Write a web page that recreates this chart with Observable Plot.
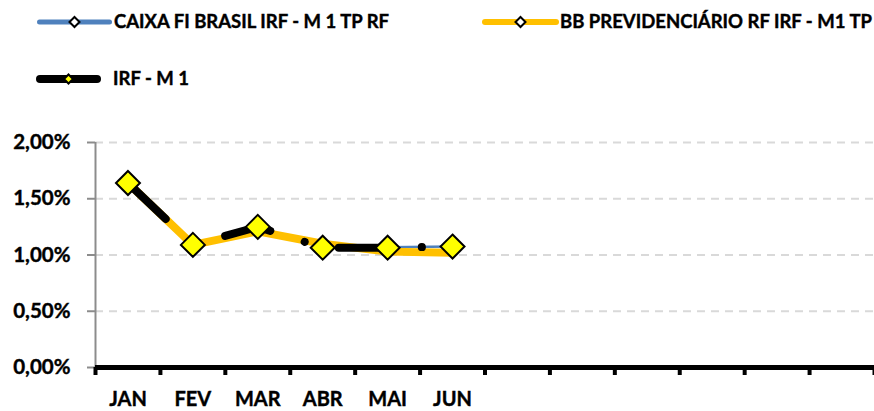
<!DOCTYPE html>
<html>
<head>
<meta charset="utf-8">
<script src="https://cdn.jsdelivr.net/npm/d3@7"></script>
<script src="https://cdn.jsdelivr.net/npm/@observablehq/plot@0.6"></script>
<style>
  html, body { margin: 0; padding: 0; background: #fff; }
  body { width: 874px; height: 411px; overflow: hidden; font-family: Lato, "Noto Sans", sans-serif; }
  #legend { position: relative; width: 874px; height: 110px; }
  .item { position: absolute; height: 30px; }
  .item svg { position: absolute; left: 0; top: 0; }
  .item span { position: absolute; top: 2px; font-weight: 700; font-size: 18.5px; white-space: nowrap; color: #000; -webkit-text-stroke: 0.4px #000; }
  #chart svg { display: block; }
  #chart svg text { stroke: #000; stroke-width: 0.4px; }
</style>
</head>
<body>
<div id="legend"></div>
<div id="chart"></div>
<script>
const months = ["JAN", "FEV", "MAR", "ABR", "MAI", "JUN"];
const bandCount = 12;
const seriesNames = ["CAIXA FI BRASIL IRF - M 1 TP RF", "BB PREVIDENCIÁRIO RF IRF - M1 TP", "IRF - M 1"];
const caixa = [1.63, 1.09, 1.24, 1.07, 1.07, 1.075];
const bb = [1.64, 1.09, 1.21, 1.10, 1.03, 1.02];
const irf = [1.64, 1.09, 1.25, 1.065, 1.065, 1.075];
const yTicks = [0, 0.5, 1, 1.5, 2];

const toRows = arr => arr.map((v, i) => ({ pos: i + 0.5, month: months[i], v }));
const fmt = d => d.toFixed(2).replace(".", ",") + "%";

// Legend
const legendSpecs = [
  { name: seriesNames[0], left: 35, top: 8, len: 75, color: "#4f81bd", lw: 5, mfill: "#ffffff", ms: 5, textLeft: 79 },
  { name: seriesNames[1], left: 480, top: 8, len: 77, color: "#ffc000", lw: 6, mfill: "#ffffff", ms: 5, textLeft: 80 },
  { name: seriesNames[2], left: 34, top: 65, len: 65, color: "#000000", lw: 8, mfill: "#ffff00", ms: 4.5, textLeft: 79 }
];
const legend = document.getElementById("legend");
for (const s of legendSpecs) {
  const div = document.createElement("div");
  div.className = "item";
  div.style.left = s.left + "px";
  div.style.top = s.top + "px";
  const cx = s.len / 2 + 2, cy = 14;
  div.innerHTML =
    `<svg width="${s.len + 4}" height="30">
      <line x1="${2 + s.lw / 2}" x2="${s.len + 2 - s.lw / 2}" y1="${cy}" y2="${cy}" stroke="${s.color}" stroke-width="${s.lw}" stroke-linecap="round"/>
      <path d="M${cx},${cy - s.ms}L${cx + s.ms},${cy}L${cx},${cy + s.ms}L${cx - s.ms},${cy}Z" fill="${s.mfill}" stroke="#000" stroke-width="2"/>
    </svg><span style="left:${s.textLeft}px">${s.name}</span>`;
  legend.appendChild(div);
}

const chart = Plot.plot({
  width: 874,
  height: 301,
  marginLeft: 95,
  marginRight: 0,
  marginTop: 32,
  marginBottom: 44,
  style: { fontFamily: "Lato, 'Noto Sans', sans-serif", background: "#fff" },
  x: { domain: [0, bandCount], axis: null },
  y: { domain: [0, 2], axis: null },
  marks: [
    Plot.ruleY(yTicks.filter(d => d > 0), { stroke: "#d9d9d9", strokeWidth: 2, strokeDasharray: "8,6" }),
    Plot.ruleX([0], { y1: 0, y2: 2, stroke: "#8c8c8c", strokeWidth: 2 }),
    Plot.axisY({
      ticks: yTicks, tickSize: 8, tickPadding: 17, tickFormat: fmt,
      stroke: "#8c8c8c", strokeWidth: 2, fill: "#000",
      fontSize: 20.5, fontWeight: "bold", label: null
    }),
    Plot.line(toRows(caixa), { x: "pos", y: "v", stroke: "#4f81bd", strokeWidth: 2.5 }),
    Plot.line(toRows(bb), { x: "pos", y: "v", stroke: "#ffc000", strokeWidth: 8, strokeLinejoin: "round", strokeLinecap: "round" }),
    Plot.line(toRows(irf), {
      x: "pos", y: "v", stroke: "#000", strokeWidth: 8,
      strokeLinecap: "round", strokeLinejoin: "round",
      strokeDasharray: "47,36,0.1,35", strokeDashoffset: 113
    }),
    Plot.dot(toRows(irf), { x: "pos", y: "v", symbol: "diamond2", r: 10.8, fill: "#ffff00", stroke: "#000", strokeWidth: 2 }),
    Plot.axisX({
      ticks: d3.range(bandCount + 1), tickSize: 8, tickFormat: () => "",
      stroke: "#000", strokeWidth: 4, label: null
    }),
    Plot.ruleY([0], { stroke: "#000", strokeWidth: 5 }),
    Plot.axisX({
      ticks: months.map((m, i) => i + 0.5), tickSize: 0, tickPadding: 24,
      tickFormat: v => months[Math.floor(v)],
      fontSize: 20, fontWeight: "bold", fill: "#000", label: null
    })
  ]
});
document.getElementById("chart").appendChild(chart);
</script>
</body>
</html>
